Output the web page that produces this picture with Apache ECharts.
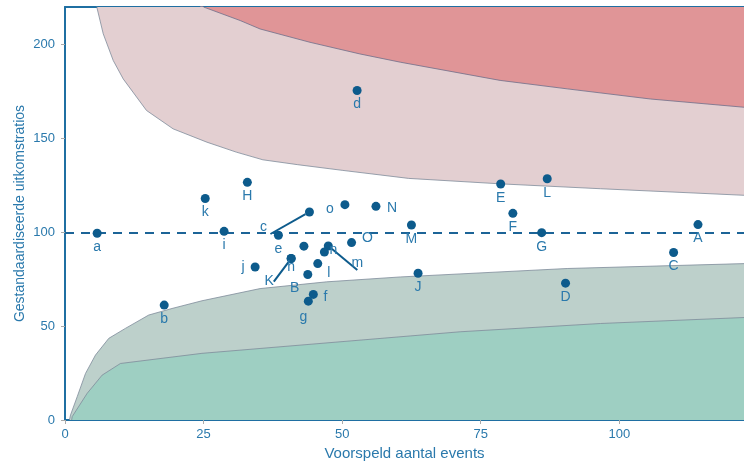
<!DOCTYPE html>
<html><head><meta charset="utf-8">
<script src="https://cdn.jsdelivr.net/npm/echarts@6/dist/echarts.min.js"></script>
<style>html,body{margin:0;padding:0;background:#fff}#c{width:744px;height:461px}</style>
</head><body><div id="c"></div>
<script>
// ---- data ----
const pointNames = ['a','b','c','d','e','f','g','h','i','j','k','l','m','n','o',
                    'A','B','C','D','E','F','G','H','I','J','K','L','M','N','O'];
const pointX = [5.8,17.9,44.1,52.7,38.5,44.8,43.9,40.8,28.7,34.3,25.3,45.6,47.5,46.8,50.5,
                114.2,43.8,109.8,90.3,78.6,80.8,86.0,32.9,43.1,63.7,40.8,87.0,62.5,56.1,51.7];
const pointY = [99.5,61.2,110.8,175.5,98.4,66.9,63.3,86.0,100.5,81.5,118.0,83.3,92.7,89.5,114.7,
                104.1,77.5,89.2,72.9,125.7,110.1,99.8,126.6,92.6,78.2,86.0,128.5,103.9,113.8,94.5];
const referenceValue = 100;

// control limits
const upperOuterX = [24.4,25.0,31.6,35.2,44.2,53.2,60.5,78.5,90.6,105.6,122.5];
const upperOuterY = [222,220,212.8,208.3,201.2,195.0,190.6,180.9,176.4,171.0,166.6];
const upperInnerX = [5.7,5.8,6.9,8.7,10.5,14.7,19.5,25.6,30.9,35.7,42.0,50.0,62.0,78.5,96.6,122.5];
const upperInnerY = [222,219.2,205.7,191.5,181.7,164.9,155.1,148.0,142.7,138.6,136.0,133.0,128.7,125.8,123.2,119.7];
const lowerInnerX = [0.8,1.0,2.2,3.7,5.5,7.9,10.9,15.1,19.3,24.7,35.2,47.2,60.5,90.6,122.5];
const lowerInnerY = [0,2.7,12.4,24.8,34.6,43.5,48.8,55.9,59.4,63.5,70.0,73.6,76.2,80.7,83.3];
const lowerOuterX = [1.2,1.3,4.0,6.7,10.0,24.7,35.2,71.3,96.6,122.5];
const lowerOuterY = [0,1.8,14.2,23.9,30.1,35.5,38.1,47.0,51.4,54.6];

const xTicks = [0,25,50,75,100];
const yTicks = [0,50,100,150,200];

// ---- label placement (style) ----
const labelOffset = {
  c:[-46,15], f:[12,3], g:[-5,16], h:[0,9], j:[-12,0], l:[11,10], m:[29,17], n:[9,-2], o:[-15,4],
  B:[-13,14], K:[-22,23], N:[16,2], O:[16,-4]
};
const leader = {c:true, K:true, m:true};
const hiddenLabel = {I:true};

const pair = (xs, ys) => xs.map((x, i) => [x, ys[i]]);

const blue = '#1f6fa2';
const txt = '#2a79ac';
const dot = '#0d5b8c';
const edge = '#7f8b9b';

const scatterData = pointNames.map((n, i) => {
  const off = labelOffset[n] || [0, 14];
  const item = {
    name: n,
    value: [pointX[i], pointY[i]],
    label: { offset: off, show: !hiddenLabel[n] }
  };
  if (leader[n]) item.labelLine = { show: true, lineStyle: { color: dot, width: 2 } };
  return item;
});

const chart = echarts.init(document.getElementById('c'), null, {renderer: 'canvas'});
chart.setOption({
  animation: false,
  backgroundColor: '#ffffff',
  grid: { left: 65, right: 0, top: 7, bottom: 41, outerBoundsMode: 'none', containLabel: false },
  xAxis: [{
    type: 'value', min: 0, max: 122.5,
    name: 'Voorspeld aantal events', nameLocation: 'middle', nameGap: 24,
    nameTextStyle: { color: txt, fontSize: 15, fontFamily: 'Liberation Sans' },
    axisLine: { show: true, onZero: false, lineStyle: { color: blue, width: 2 } },
    axisTick: { show: true, length: 4, lineStyle: { color: '#aaaaaa' }, customValues: xTicks },
    axisLabel: { color: txt, fontSize: 13, fontFamily: 'Liberation Sans', margin: 8, customValues: xTicks },
    splitLine: { show: false }
  }, {
    type: 'value', min: 0, max: 122.5, position: 'top',
    axisLine: { show: true, onZero: false, lineStyle: { color: blue, width: 2 } },
    axisTick: { show: false }, axisLabel: { show: false }, splitLine: { show: false }
  }],
  yAxis: {
    type: 'value', min: 0, max: 220,
    name: 'Gestandaardiseerde uitkomstratios', nameLocation: 'middle', nameGap: 38, nameRotate: 90,
    nameMoveOverlap: false,
    nameTextStyle: { color: txt, fontSize: 14, fontFamily: 'Liberation Sans' },
    axisLine: { show: true, onZero: false, lineStyle: { color: blue, width: 2 } },
    axisTick: { show: true, length: 4, lineStyle: { color: '#aaaaaa' }, customValues: yTicks },
    axisLabel: { color: txt, fontSize: 13, fontFamily: 'Liberation Sans', margin: 10, customValues: yTicks },
    splitLine: { show: false }
  },
  series: [
    { type: 'line', data: pair(lowerInnerX, lowerInnerY), showSymbol: false, silent: true, z: 1,
      lineStyle: { color: edge, width: 0.8 }, areaStyle: { color: '#bdd0cb', opacity: 1, origin: 'start' } },
    { type: 'line', data: pair(lowerOuterX, lowerOuterY), showSymbol: false, silent: true, z: 2,
      lineStyle: { color: edge, width: 0.8 }, areaStyle: { color: '#9ecfc2', opacity: 1, origin: 'start' } },
    { type: 'line', data: pair(upperInnerX, upperInnerY), showSymbol: false, silent: true, z: 1,
      lineStyle: { color: edge, width: 0.8 }, areaStyle: { color: '#e3cfd1', opacity: 1, origin: 'end' } },
    { type: 'line', data: pair(upperOuterX, upperOuterY), showSymbol: false, silent: true, z: 2,
      lineStyle: { color: '#6f6f8a', width: 0.8 }, areaStyle: { color: '#e09597', opacity: 1, origin: 'end' } },
    { type: 'scatter', data: scatterData, symbolSize: 9, z: 5,
      itemStyle: { color: dot, opacity: 1 },
      label: { show: true, position: 'inside', formatter: '{b}', color: txt, fontSize: 14,
               fontFamily: 'Liberation Sans', textBorderWidth: 0 },
      labelLine: { show: false },
      markLine: { silent: true, symbol: ['none','none'], label: { show: false },
                  lineStyle: { color: '#1c6497', width: 2, type: [9,7] },
                  data: [{ yAxis: referenceValue }] } }
  ]
});
</script>
</body></html>
